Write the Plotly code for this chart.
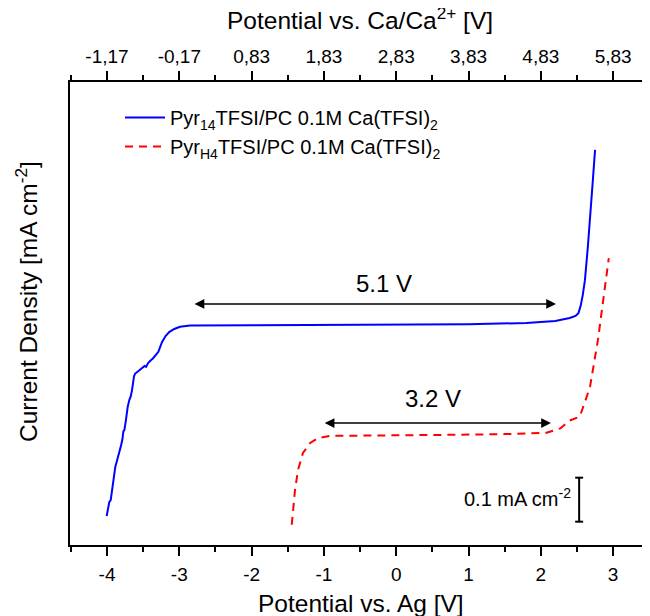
import plotly.graph_objects as go

# ---------------- data ----------------
# Pyr14TFSI/PC 0.1M Ca(TFSI)2  (potential vs Ag [V], current density [mA cm^-2], offset)
blue_x = [-4.005, -3.982, -3.968, -3.949, -3.935, -3.912, -3.899, -3.885, -3.866, -3.852,
          -3.829, -3.811, -3.788, -3.774, -3.760, -3.742, -3.728, -3.714, -3.691, -3.673,
          -3.654, -3.645, -3.636, -3.627, -3.613,
          -3.55, -3.48, -3.46, -3.43, -3.36, -3.29, -3.24, -3.19, -3.14, -3.07,
          -2.99, -2.85, -2.0, -1.0, 0.0, 1.0, 1.8, 2.2, 2.40, 2.48,
          2.52, 2.55, 2.58, 2.61, 2.65, 2.69, 2.72, 2.75]
blue_y = [0.066, 0.087, 0.098, 0.102, 0.121, 0.144, 0.170, 0.178, 0.189, 0.201,
          0.212, 0.223, 0.239, 0.258, 0.261, 0.280, 0.299, 0.314, 0.330, 0.337,
          0.352, 0.368, 0.375, 0.383, 0.389,
          0.398, 0.407, 0.405, 0.414, 0.425, 0.439, 0.461, 0.475, 0.484, 0.491,
          0.496, 0.499, 0.4995, 0.500, 0.5005, 0.502, 0.5045, 0.509, 0.516, 0.5205,
          0.527, 0.543, 0.568, 0.602, 0.677, 0.755, 0.830, 0.898]

# PyrH4TFSI/PC 0.1M Ca(TFSI)2
red_x = [-1.445, -1.40, -1.358, -1.29, -1.19, -1.08, -0.92, -0.5, 0.5, 1.5,
         2.08, 2.27, 2.40, 2.54, 2.68, 2.79, 2.86, 2.94]
red_y = [0.046, 0.125, 0.171, 0.209, 0.232, 0.243, 0.248, 0.249, 0.250, 0.252,
         0.255, 0.265, 0.283, 0.292, 0.359, 0.466, 0.557, 0.652]

series_names = ["Pyr<sub>14</sub>TFSI/PC 0.1M Ca(TFSI)<sub>2</sub>",
                "Pyr<sub>H4</sub>TFSI/PC 0.1M Ca(TFSI)<sub>2</sub>"]

# axes
x_range = [-4.512, 3.51]
y_range = [0.0, 1.0523]
ca_offset = 2.83
bottom_tickvals = [-4, -3, -2, -1, 0, 1, 2, 3]
bottom_ticktext = ["-4", "-3", "-2", "-1", "0", "1", "2", "3"]
bottom_minor = [-4.5, -3.5, -2.5, -1.5, -0.5, 0.5, 1.5, 2.5, 3.5]
top_tickvals = [-1.17, -0.17, 0.83, 1.83, 2.83, 3.83, 4.83, 5.83]
top_ticktext = ["-1,17", "-0,17", "0,83", "1,83", "2,83", "3,83", "4,83", "5,83"]
top_minor = [-1.67, -0.67, 0.33, 1.33, 2.33, 3.33, 4.33, 5.33, 6.33]

# annotations: windows
win1 = {"x0": -2.81, "x1": 2.21, "y": 0.548, "label": "5.1 V", "lx": -0.176, "ly": 0.595}
win2 = {"x0": -1.01, "x1": 2.14, "y": 0.277, "label": "3.2 V", "lx": 0.509, "ly": 0.334}
scale_bar = {"x": 2.53, "y0": 0.053, "y1": 0.153, "cap": 0.055,
             "label": "0.1 mA cm<sup>-2</sup>", "lx": 2.445, "ly": 0.107}

FONT = "Arial, Liberation Sans, sans-serif"

# page offset (browser body margin) and plot area in figure pixels
OFF = 8
L, T, R, B = 70 - OFF, 82 - OFF, 650 - OFF, 545 - OFF
W, H = 650, 616
PW, PH = R - L, B - T


def paper(sx, sy):
    """screen pixel -> paper coords"""
    fx, fy = sx - OFF, sy - OFF
    return (fx - L) / PW, (B - fy) / PH


fig = go.Figure()
fig.add_trace(go.Scatter(x=blue_x, y=blue_y, mode="lines", name=series_names[0],
                         line=dict(color="#0000ff", width=2)))
fig.add_trace(go.Scatter(x=red_x, y=red_y, mode="lines", name=series_names[1],
                         line=dict(color="#ff0000", width=2, dash="8px,6px")))
# invisible trace on top axis
fig.add_trace(go.Scatter(x=[x_range[0] + ca_offset, x_range[1] + ca_offset], y=[None, None],
                         xaxis="x2", mode="lines", showlegend=False, hoverinfo="skip"))

# scale bar
fig.add_shape(type="line", x0=scale_bar["x"], x1=scale_bar["x"], y0=scale_bar["y0"], y1=scale_bar["y1"],
              line=dict(color="black", width=2))
for yy in (scale_bar["y0"], scale_bar["y1"]):
    fig.add_shape(type="line", x0=scale_bar["x"] - scale_bar["cap"], x1=scale_bar["x"] + scale_bar["cap"],
                  y0=yy, y1=yy, line=dict(color="black", width=2))

anns = []
for w in (win1, win2):
    anns.append(dict(x=w["x1"], y=w["y"], ax=w["x0"], ay=w["y"], xref="x", yref="y",
                     axref="x", ayref="y", text="", showarrow=True, arrowhead=2,
                     arrowside="end+start", arrowsize=1.3, arrowwidth=1.5, arrowcolor="black"))
    anns.append(dict(x=w["lx"], y=w["ly"], xref="x", yref="y", text=w["label"], showarrow=False,
                     xanchor="center", yanchor="middle",
                     font=dict(size=24, color="black", family=FONT)))
anns.append(dict(x=scale_bar["lx"], y=scale_bar["ly"], xref="x", yref="y", text=scale_bar["label"],
                 showarrow=False, xanchor="right", yanchor="middle",
                 font=dict(size=20, color="black", family=FONT)))

bx, by = paper(360.5, 603)
anns.append(dict(x=bx, y=by, xref="paper", yref="paper", text="Potential vs. Ag [V]",
                 showarrow=False, xanchor="center", yanchor="middle",
                 font=dict(size=24.5, color="black", family=FONT)))
tx, ty = paper(359.5, 19)
anns.append(dict(x=tx, y=ty, xref="paper", yref="paper",
                 text="Potential vs. Ca/Ca<sup>2+</sup> [V]", showarrow=False,
                 xanchor="center", yanchor="middle",
                 font=dict(size=24.5, color="black", family=FONT)))
lx, ly = paper(26, 302)
anns.append(dict(x=lx, y=ly, xref="paper", yref="paper",
                 text="Current Density [mA cm<sup>-2</sup>]", textangle=-90,
                 showarrow=False, xanchor="center", yanchor="middle",
                 font=dict(size=24.5, color="black", family=FONT)))

legx, legy = paper(120, 98)

fig.update_layout(
    width=W, height=H,
    margin=dict(l=L, r=W - R, t=T, b=H - B, autoexpand=False),
    paper_bgcolor="white", plot_bgcolor="white",
    font=dict(family=FONT, color="black", size=19),
    showlegend=True,
    legend=dict(x=legx, y=legy, xanchor="left", yanchor="top",
                bgcolor="rgba(0,0,0,0)", font=dict(size=20, family=FONT, color="black"),
                itemwidth=40),
    xaxis=dict(range=x_range, showline=True, linewidth=2, linecolor="black",
               showgrid=False, zeroline=False, ticks="outside", ticklen=9, tickwidth=2,
               tickcolor="black", tickmode="array", tickvals=bottom_tickvals,
               ticktext=bottom_ticktext, tickfont=dict(size=19), ticklabelstandoff=2,
               minor=dict(tickmode="array", tickvals=bottom_minor, ticks="outside",
                          ticklen=5, tickwidth=2, tickcolor="black")),
    xaxis2=dict(range=[x_range[0] + ca_offset, x_range[1] + ca_offset], overlaying="x",
                side="top", anchor="y", showline=True, linewidth=2, linecolor="black",
                showgrid=False, zeroline=False, ticks="outside", ticklen=9, tickwidth=2,
                tickcolor="black", tickmode="array", tickvals=top_tickvals,
                ticktext=top_ticktext, tickfont=dict(size=19),
                minor=dict(tickmode="array", tickvals=top_minor, ticks="outside",
                           ticklen=5, tickwidth=2, tickcolor="black")),
    yaxis=dict(range=y_range, showline=True, linewidth=2, linecolor="black",
               showgrid=False, zeroline=False, ticks="", showticklabels=False),
    annotations=anns,
)

fig.write_html("out.html")
